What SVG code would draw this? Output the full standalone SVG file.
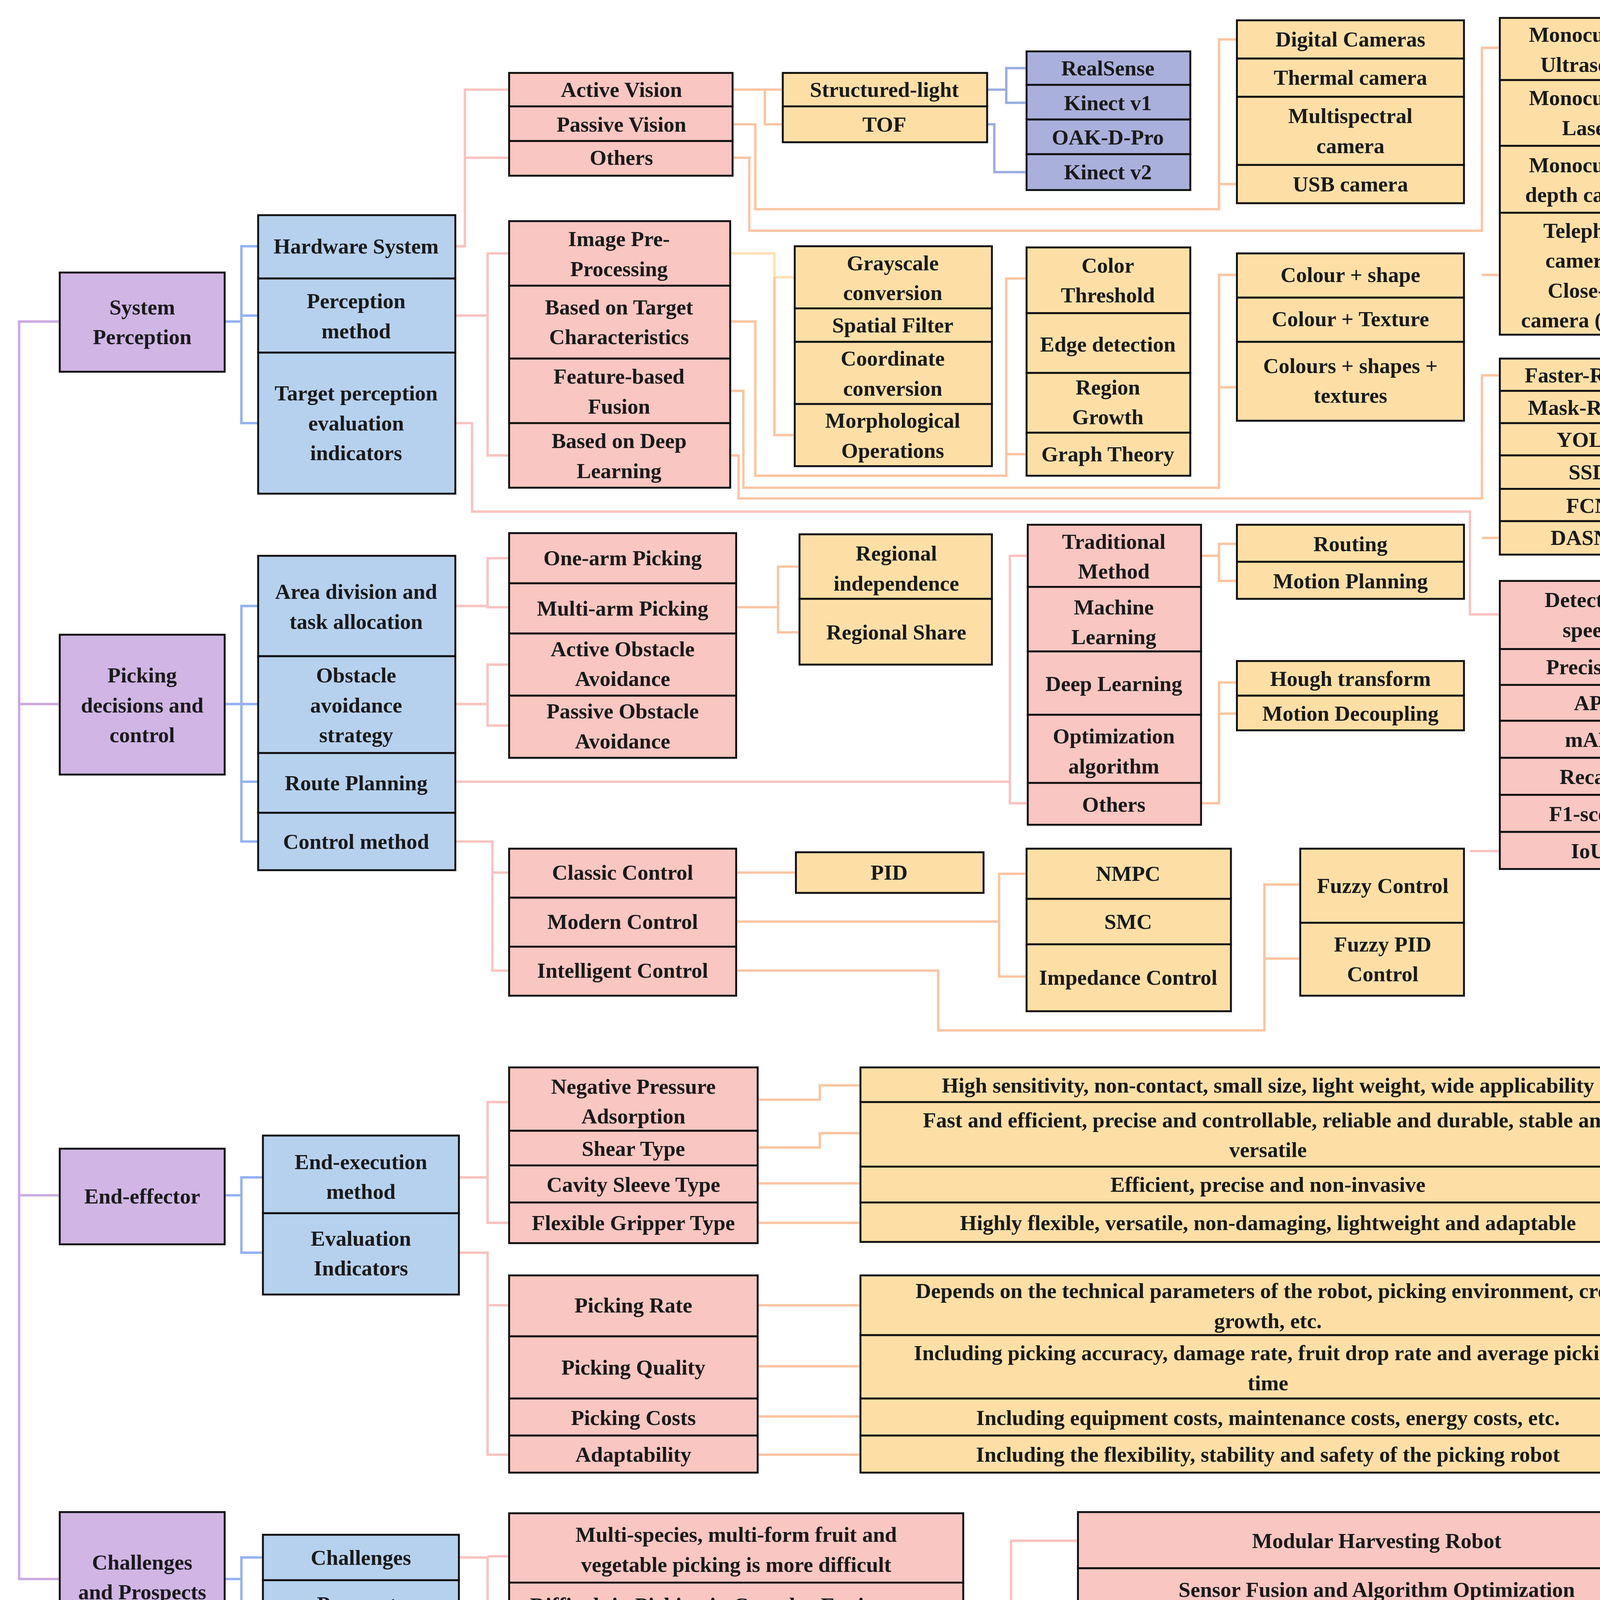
<svg xmlns="http://www.w3.org/2000/svg" width="4326" height="4795" viewBox="0 0 4326 4795">
<style>
rect{stroke:#111;stroke-width:1.6}
.p{fill:#D0B5E5}.b{fill:#B6D1EE}.k{fill:#F9C6C1}.y{fill:#FDDFA6}.l{fill:#A9B0DB}
text{font-family:"Liberation Serif",serif;font-weight:bold;font-size:18px;fill:#1a1a1a;text-anchor:middle}
.c path{fill:none;stroke-width:2}
.cp{stroke:#CDA9E2}.cb{stroke:#93B2F2}.ck{stroke:#F9C3C0}.co{stroke:#FBC5A2}.cl{stroke:#9AAEE0}.cy{stroke:#FCE1B0}
</style>
<rect x="0" y="0" width="4326" height="4795" style="fill:#fff;stroke:none"/>
<g transform="scale(3.0594 3.06)">
<g class="c">
<path class="cp" d="M50 269H16V1321H50M16 589H50M16 1000H50"/>
<path class="cb" d="M188 269H202M216 206H202V354H216M202 264H216"/>
<path class="cb" d="M188 589H202M216 507H202V704H216M202 589H216M202 654H216"/>
<path class="cb" d="M188 1000H202M220 985H202V1048H220"/>
<path class="cb" d="M188 1321H202M220 1303H202V1341H220"/>
<path class="ck" d="M381 206H389V75H426M389 132H426"/>
<path class="co" d="M613 75H640M655 75H640V104H655"/>
<path class="co" d="M613 104H632V175H1020V33H1035M1020 154H1035"/>
<path class="co" d="M613 132H627V193H1240V40H1255M1240 230H1255"/>
<path class="cl" d="M826 75H842M859 57H842V86H859M826 104H832V144H859"/>
<path class="ck" d="M381 264H408M426 212H408V381H426"/>
<path class="cy" d="M611 212H648V232H665"/>
<path class="co" d="M648 232V364H665"/>
<path class="co" d="M611 269H632V398H842V233H859M842 380H859"/>
<path class="co" d="M611 327H622V408H1020V230H1035M1020 324H1035"/>
<path class="co" d="M611 381H618V417H1240V314H1255M1240 450H1255"/>
<path class="ck" d="M381 354H395V428H1230V514H1255M1230 712H1255"/>
<path class="ck" d="M381 507H408M426 467H408V508H426"/>
<path class="ck" d="M381 589H408M426 556H408V607H426"/>
<path class="co" d="M616 508H651M669 474H651V529H669"/>
<path class="ck" d="M381 654H845M860 465H845V672H860"/>
<path class="co" d="M1005 465H1020M1035 455H1020V486H1035"/>
<path class="co" d="M1005 672H1020V571H1035M1020 597H1035"/>
<path class="ck" d="M381 704H412V812H426M412 730H426"/>
<path class="co" d="M616 730H666"/>
<path class="co" d="M616 771H836M859 731H836V817H859"/>
<path class="co" d="M616 812H785V862H1058V740H1088M1058 802H1088"/>
<path class="ck" d="M384 985H408M426 922H408V1023H426"/>
<path class="co" d="M634 920H686V908H720M634 960H686V948H720M634 990H720M634 1023H720"/>
<path class="ck" d="M384 1048H408V1217H426M408 1092H426"/>
<path class="co" d="M634 1092H720M634 1143H720M634 1185H720M634 1217H720"/>
<path class="ck" d="M384 1303H408V1521H426M408 1302H426"/>
<path class="ck" d="M384 1341H398V1558H846V1289H902M846 1517H902"/>
</g>
<g id="n-sys"><rect class="p" x="50" y="228" width="138" height="83"/><text x="119" y="263">System</text><text x="119" y="288">Perception</text></g>
<g id="n-pick"><rect class="p" x="50" y="531" width="138" height="117"/><text x="119" y="571">Picking</text><text x="119" y="596">decisions and</text><text x="119" y="621">control</text></g>
<g id="n-end"><rect class="p" x="50" y="961" width="138" height="80"/><text x="119" y="1007">End-effector</text></g>
<g id="n-chal"><rect class="p" x="50" y="1265" width="138" height="108"/><text x="119" y="1313">Challenges</text><text x="119" y="1338">and Prospects</text></g>
<g id="n-hw"><rect class="b" x="216" y="180" width="165" height="53"/><text x="298" y="212">Hardware System</text></g>
<g id="n-pm"><rect class="b" x="216" y="233" width="165" height="62"/><text x="298" y="258">Perception</text><text x="298" y="283">method</text></g>
<g id="n-tpe"><rect class="b" x="216" y="295" width="165" height="118"/><text x="298" y="335">Target perception</text><text x="298" y="360">evaluation</text><text x="298" y="385">indicators</text></g>
<g id="n-area"><rect class="b" x="216" y="465" width="165" height="84"/><text x="298" y="501">Area division and</text><text x="298" y="526">task allocation</text></g>
<g id="n-obs"><rect class="b" x="216" y="549" width="165" height="81"/><text x="298" y="571">Obstacle</text><text x="298" y="596">avoidance</text><text x="298" y="621">strategy</text></g>
<g id="n-route"><rect class="b" x="216" y="630" width="165" height="50"/><text x="298" y="661">Route Planning</text></g>
<g id="n-ctrl"><rect class="b" x="216" y="680" width="165" height="48"/><text x="298" y="710">Control method</text></g>
<g id="n-eem"><rect class="b" x="220" y="950" width="164" height="65"/><text x="302" y="978">End-execution</text><text x="302" y="1003">method</text></g>
<g id="n-evi"><rect class="b" x="220" y="1015" width="164" height="68"/><text x="302" y="1042">Evaluation</text><text x="302" y="1067">Indicators</text></g>
<g id="n-ch"><rect class="b" x="220" y="1284" width="164" height="38"/><text x="302" y="1309">Challenges</text></g>
<g id="n-pr"><rect class="b" x="220" y="1322" width="164" height="39"/><text x="302" y="1348">Prospects</text></g>
<g id="n-av"><rect class="k" x="426" y="61" width="187" height="28"/><text x="520" y="81">Active Vision</text></g>
<g id="n-pv"><rect class="k" x="426" y="89" width="187" height="29"/><text x="520" y="110">Passive Vision</text></g>
<g id="n-oth"><rect class="k" x="426" y="118" width="187" height="29"/><text x="520" y="138">Others</text></g>
<g id="n-sl"><rect class="y" x="655" y="61" width="171" height="28"/><text x="740" y="81">Structured-light</text></g>
<g id="n-tof"><rect class="y" x="655" y="89" width="171" height="30"/><text x="740" y="110">TOF</text></g>
<g id="n-rs"><rect class="l" x="859" y="43" width="137" height="28"/><text x="927" y="63">RealSense</text></g>
<g id="n-k1"><rect class="l" x="859" y="71" width="137" height="29"/><text x="927" y="92">Kinect v1</text></g>
<g id="n-oak"><rect class="l" x="859" y="100" width="137" height="29"/><text x="927" y="121">OAK-D-Pro</text></g>
<g id="n-k2"><rect class="l" x="859" y="129" width="137" height="30"/><text x="927" y="150">Kinect v2</text></g>
<g id="n-dc"><rect class="y" x="1035" y="17" width="190" height="32"/><text x="1130" y="39">Digital Cameras</text></g>
<g id="n-tc"><rect class="y" x="1035" y="49" width="190" height="32"/><text x="1130" y="71">Thermal camera</text></g>
<g id="n-ms"><rect class="y" x="1035" y="81" width="190" height="57"/><text x="1130" y="103">Multispectral</text><text x="1130" y="128">camera</text></g>
<g id="n-usb"><rect class="y" x="1035" y="138" width="190" height="32"/><text x="1130" y="160">USB camera</text></g>
<g id="n-mu"><rect class="y" x="1255" y="15" width="147" height="52"/><text x="1329" y="35">Monocular +</text><text x="1329" y="60">Ultrasonic</text></g>
<g id="n-ml"><rect class="y" x="1255" y="67" width="147" height="55"/><text x="1329" y="88">Monocular +</text><text x="1329" y="113">Laser</text></g>
<g id="n-md"><rect class="y" x="1255" y="122" width="147" height="56"/><text x="1329" y="144">Monocular +</text><text x="1329" y="169">depth camera</text></g>
<g id="n-tele"><rect class="y" x="1255" y="178" width="147" height="102"/><text x="1329" y="199">Telephoto</text><text x="1329" y="224">camera +</text><text x="1329" y="249">Close-up</text><text x="1329" y="274">camera (CCD)</text></g>
<g id="n-ipp"><rect class="k" x="426" y="185" width="185" height="54"/><text x="518" y="206">Image Pre-</text><text x="518" y="231">Processing</text></g>
<g id="n-btc"><rect class="k" x="426" y="239" width="185" height="61"/><text x="518" y="263">Based on Target</text><text x="518" y="288">Characteristics</text></g>
<g id="n-ffu"><rect class="k" x="426" y="300" width="185" height="54"/><text x="518" y="321">Feature-based</text><text x="518" y="346">Fusion</text></g>
<g id="n-bdl"><rect class="k" x="426" y="354" width="185" height="54"/><text x="518" y="375">Based on Deep</text><text x="518" y="400">Learning</text></g>
<g id="n-gc"><rect class="y" x="665" y="206" width="165" height="52"/><text x="747" y="226">Grayscale</text><text x="747" y="251">conversion</text></g>
<g id="n-sf"><rect class="y" x="665" y="258" width="165" height="28"/><text x="747" y="278">Spatial Filter</text></g>
<g id="n-cc"><rect class="y" x="665" y="286" width="165" height="52"/><text x="747" y="306">Coordinate</text><text x="747" y="331">conversion</text></g>
<g id="n-mo"><rect class="y" x="665" y="338" width="165" height="52"/><text x="747" y="358">Morphological</text><text x="747" y="383">Operations</text></g>
<g id="n-ct"><rect class="y" x="859" y="207" width="137" height="55"/><text x="927" y="228">Color</text><text x="927" y="253">Threshold</text></g>
<g id="n-ed"><rect class="y" x="859" y="262" width="137" height="50"/><text x="927" y="294">Edge detection</text></g>
<g id="n-rg"><rect class="y" x="859" y="312" width="137" height="50"/><text x="927" y="330">Region</text><text x="927" y="355">Growth</text></g>
<g id="n-gt"><rect class="y" x="859" y="362" width="137" height="36"/><text x="927" y="386">Graph Theory</text></g>
<g id="n-cs"><rect class="y" x="1035" y="212" width="190" height="37"/><text x="1130" y="236">Colour + shape</text></g>
<g id="n-ctx"><rect class="y" x="1035" y="249" width="190" height="37"/><text x="1130" y="273">Colour + Texture</text></g>
<g id="n-cst"><rect class="y" x="1035" y="286" width="190" height="66"/><text x="1130" y="312">Colours + shapes +</text><text x="1130" y="337">textures</text></g>
<g id="n-frc"><rect class="y" x="1255" y="300" width="147" height="27"/><text x="1329" y="320">Faster-RCNN</text></g>
<g id="n-mrc"><rect class="y" x="1255" y="327" width="147" height="27"/><text x="1329" y="347">Mask-RCNN</text></g>
<g id="n-yolo"><rect class="y" x="1255" y="354" width="147" height="27"/><text x="1329" y="374">YOLO</text></g>
<g id="n-ssd"><rect class="y" x="1255" y="381" width="147" height="28"/><text x="1329" y="401">SSD</text></g>
<g id="n-fcn"><rect class="y" x="1255" y="409" width="147" height="27"/><text x="1329" y="429">FCN</text></g>
<g id="n-das"><rect class="y" x="1255" y="436" width="147" height="28"/><text x="1329" y="456">DASNet</text></g>
<g id="n-ds"><rect class="k" x="1255" y="486" width="147" height="57"/><text x="1329" y="508">Detection</text><text x="1329" y="533">speed</text></g>
<g id="n-prec"><rect class="k" x="1255" y="543" width="147" height="30"/><text x="1329" y="564">Precision</text></g>
<g id="n-ap"><rect class="k" x="1255" y="573" width="147" height="30"/><text x="1329" y="594">AP</text></g>
<g id="n-map"><rect class="k" x="1255" y="603" width="147" height="31"/><text x="1329" y="625">mAP</text></g>
<g id="n-rec"><rect class="k" x="1255" y="634" width="147" height="31"/><text x="1329" y="656">Recall</text></g>
<g id="n-f1"><rect class="k" x="1255" y="665" width="147" height="31"/><text x="1329" y="687">F1-score</text></g>
<g id="n-iou"><rect class="k" x="1255" y="696" width="147" height="31"/><text x="1329" y="718">IoU</text></g>
<g id="n-one"><rect class="k" x="426" y="446" width="190" height="42"/><text x="521" y="473">One-arm Picking</text></g>
<g id="n-multi"><rect class="k" x="426" y="488" width="190" height="42"/><text x="521" y="515">Multi-arm Picking</text></g>
<g id="n-aoa"><rect class="k" x="426" y="530" width="190" height="52"/><text x="521" y="549">Active Obstacle</text><text x="521" y="574">Avoidance</text></g>
<g id="n-poa"><rect class="k" x="426" y="582" width="190" height="52"/><text x="521" y="601">Passive Obstacle</text><text x="521" y="626">Avoidance</text></g>
<g id="n-ri"><rect class="y" x="669" y="447" width="161" height="54"/><text x="750" y="469">Regional</text><text x="750" y="494">independence</text></g>
<g id="n-rsh"><rect class="y" x="669" y="501" width="161" height="55"/><text x="750" y="535">Regional Share</text></g>
<g id="n-tm"><rect class="k" x="860" y="439" width="145" height="52"/><text x="932" y="459">Traditional</text><text x="932" y="484">Method</text></g>
<g id="n-ml2"><rect class="k" x="860" y="491" width="145" height="54"/><text x="932" y="514">Machine</text><text x="932" y="539">Learning</text></g>
<g id="n-dl"><rect class="k" x="860" y="545" width="145" height="53"/><text x="932" y="578">Deep Learning</text></g>
<g id="n-oa"><rect class="k" x="860" y="598" width="145" height="57"/><text x="932" y="622">Optimization</text><text x="932" y="647">algorithm</text></g>
<g id="n-oth2"><rect class="k" x="860" y="655" width="145" height="35"/><text x="932" y="679">Others</text></g>
<g id="n-rt"><rect class="y" x="1035" y="439" width="190" height="31"/><text x="1130" y="461">Routing</text></g>
<g id="n-mp"><rect class="y" x="1035" y="470" width="190" height="31"/><text x="1130" y="492">Motion Planning</text></g>
<g id="n-ht"><rect class="y" x="1035" y="553" width="190" height="29"/><text x="1130" y="574">Hough transform</text></g>
<g id="n-mdc"><rect class="y" x="1035" y="582" width="190" height="29"/><text x="1130" y="603">Motion Decoupling</text></g>
<g id="n-cl"><rect class="k" x="426" y="710" width="190" height="41"/><text x="521" y="736">Classic Control</text></g>
<g id="n-mc"><rect class="k" x="426" y="751" width="190" height="41"/><text x="521" y="777">Modern Control</text></g>
<g id="n-ic"><rect class="k" x="426" y="792" width="190" height="41"/><text x="521" y="818">Intelligent Control</text></g>
<g id="n-pid"><rect class="y" x="666" y="713" width="157" height="34"/><text x="744" y="736">PID</text></g>
<g id="n-nmpc"><rect class="y" x="859" y="710" width="171" height="42"/><text x="944" y="737">NMPC</text></g>
<g id="n-smc"><rect class="y" x="859" y="752" width="171" height="38"/><text x="944" y="777">SMC</text></g>
<g id="n-imp"><rect class="y" x="859" y="790" width="171" height="56"/><text x="944" y="824">Impedance Control</text></g>
<g id="n-fc"><rect class="y" x="1088" y="710" width="137" height="62"/><text x="1157" y="747">Fuzzy Control</text></g>
<g id="n-fpid"><rect class="y" x="1088" y="772" width="137" height="61"/><text x="1157" y="796">Fuzzy PID</text><text x="1157" y="821">Control</text></g>
<g id="n-npa"><rect class="k" x="426" y="893" width="208" height="53"/><text x="530" y="915">Negative Pressure</text><text x="530" y="940">Adsorption</text></g>
<g id="n-sht"><rect class="k" x="426" y="946" width="208" height="29"/><text x="530" y="967">Shear Type</text></g>
<g id="n-cst2"><rect class="k" x="426" y="975" width="208" height="31"/><text x="530" y="997">Cavity Sleeve Type</text></g>
<g id="n-fgt"><rect class="k" x="426" y="1006" width="208" height="34"/><text x="530" y="1029">Flexible Gripper Type</text></g>
<g id="n-d1"><rect class="y" x="720" y="893" width="683" height="29"/><text x="1061" y="914">High sensitivity, non-contact, small size, light weight, wide applicability</text></g>
<g id="n-d2"><rect class="y" x="720" y="922" width="683" height="54"/><text x="1061" y="943">Fast and efficient, precise and controllable, reliable and durable, stable and</text><text x="1061" y="968">versatile</text></g>
<g id="n-d3"><rect class="y" x="720" y="976" width="683" height="30"/><text x="1061" y="997">Efficient, precise and non-invasive</text></g>
<g id="n-d4"><rect class="y" x="720" y="1006" width="683" height="33"/><text x="1061" y="1029">Highly flexible, versatile, non-damaging, lightweight and adaptable</text></g>
<g id="n-pra"><rect class="k" x="426" y="1067" width="208" height="51"/><text x="530" y="1098">Picking Rate</text></g>
<g id="n-pq"><rect class="k" x="426" y="1118" width="208" height="52"/><text x="530" y="1150">Picking Quality</text></g>
<g id="n-pc"><rect class="k" x="426" y="1170" width="208" height="31"/><text x="530" y="1192">Picking Costs</text></g>
<g id="n-ad"><rect class="k" x="426" y="1201" width="208" height="31"/><text x="530" y="1223">Adaptability</text></g>
<g id="n-e1"><rect class="y" x="720" y="1067" width="683" height="50"/><text x="1061" y="1086">Depends on the technical parameters of the robot, picking environment, crop</text><text x="1061" y="1111">growth, etc.</text></g>
<g id="n-e2"><rect class="y" x="720" y="1117" width="683" height="53"/><text x="1061" y="1138">Including picking accuracy, damage rate, fruit drop rate and average picking</text><text x="1061" y="1163">time</text></g>
<g id="n-e3"><rect class="y" x="720" y="1170" width="683" height="31"/><text x="1061" y="1192">Including equipment costs, maintenance costs, energy costs, etc.</text></g>
<g id="n-e4"><rect class="y" x="720" y="1201" width="683" height="31"/><text x="1061" y="1223">Including the flexibility, stability and safety of the picking robot</text></g>
<g id="n-c1"><rect class="k" x="426" y="1266" width="380" height="58"/><text x="616" y="1290">Multi-species, multi-form fruit and</text><text x="616" y="1315">vegetable picking is more difficult</text></g>
<g id="n-c2"><rect class="k" x="426" y="1324" width="380" height="37"/><text x="616" y="1349">Difficult in Picking in Complex Environment</text></g>
<g id="n-c3"><rect class="k" x="426" y="1361" width="380" height="35"/><text x="616" y="1385">High Real-Time Requirements</text></g>
<g id="n-c4"><rect class="k" x="426" y="1396" width="380" height="55"/><text x="616" y="1418">Few Research on Walking Platform and</text><text x="616" y="1443">Navigation</text></g>
<g id="n-c5"><rect class="k" x="426" y="1451" width="380" height="53"/><text x="616" y="1470">The Working Height of Picking Robot is</text><text x="616" y="1495">Generally Limited</text></g>
<g id="n-c6"><rect class="k" x="426" y="1504" width="380" height="34"/><text x="616" y="1527">High Costs</text></g>
<g id="n-p1"><rect class="k" x="902" y="1265" width="500" height="47"/><text x="1152" y="1295">Modular Harvesting Robot</text></g>
<g id="n-p2"><rect class="k" x="902" y="1312" width="500" height="36"/><text x="1152" y="1336">Sensor Fusion and Algorithm Optimization</text></g>
<g id="n-p3"><rect class="k" x="902" y="1348" width="500" height="57"/><text x="1152" y="1371">Strengthen Research on Walking Platform and Navigation</text><text x="1152" y="1396">Algorithm</text></g>
<g id="n-p4"><rect class="k" x="902" y="1405" width="500" height="46"/><text x="1152" y="1434">The Development of Picking Drones</text></g>
<g id="n-p5"><rect class="k" x="902" y="1451" width="500" height="46"/><text x="1152" y="1476">Multi Robot Collaborative Operation</text></g>
<g id="n-p6"><rect class="k" x="902" y="1497" width="500" height="41"/><text x="1152" y="1524">Reducing Costs</text></g>
</g>
</svg>
